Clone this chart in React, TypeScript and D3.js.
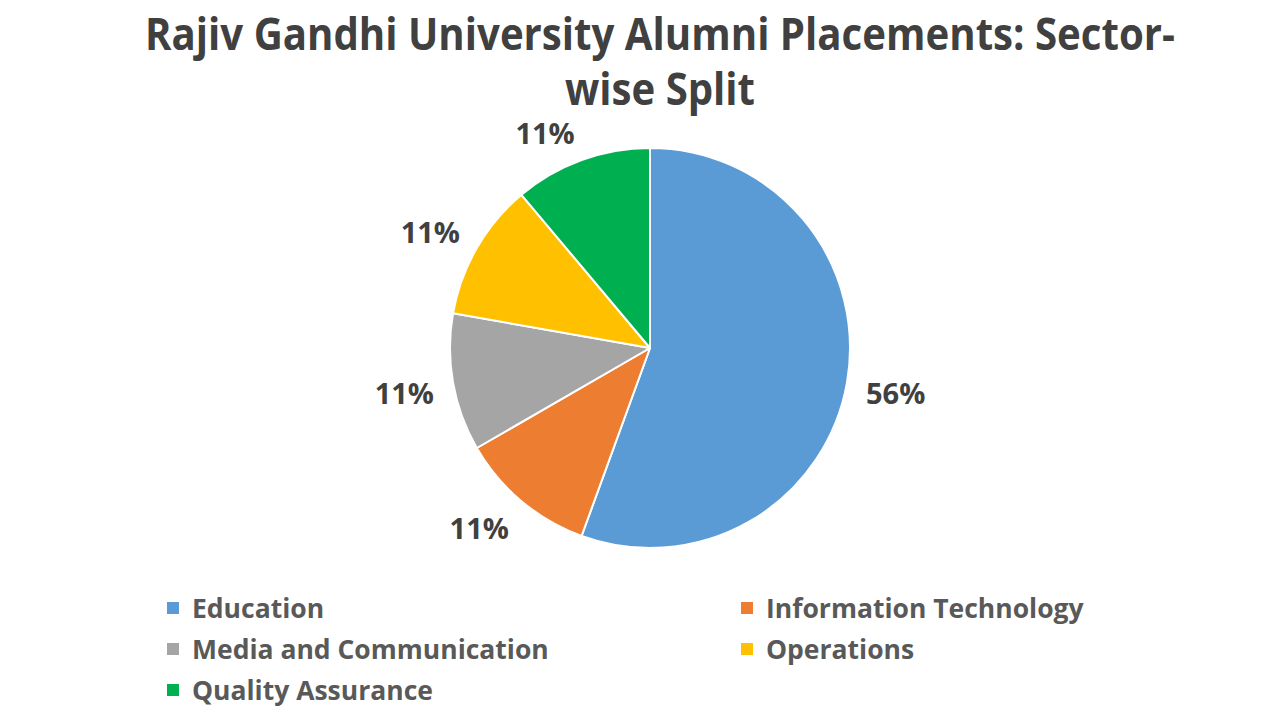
import React from "react";
import * as d3 from "d3";

const categories = ["Education", "Information Technology", "Media and Communication", "Operations", "Quality Assurance"];
const values = [5, 1, 1, 1, 1];
const colors = ["#5B9BD5", "#ED7D31", "#A5A5A5", "#FFC000", "#00B050"];
const titleLines = ["Rajiv Gandhi University Alumni Placements: Sector-", "wise Split"];

const W = 1280, H = 720;
const cx = 650, cy = 348, R = 200;

export default function App() {
  const pie = d3.pie<number>().sort(null).value((d) => d)(values);
  const arc = d3.arc<d3.PieArcDatum<number>>().innerRadius(0).outerRadius(R);
  const total = d3.sum(values);
  const fmt = d3.format(".0%");
  const legendPos = [
    { x: 167, y: 608 },
    { x: 741, y: 608 },
    { x: 167, y: 649 },
    { x: 741, y: 649 },
    { x: 167, y: 690 },
  ];
  return (
    <svg width={W} height={H} style={{ position: "absolute", left: 0, top: 0, background: "#fff" }}>
      <rect x={0} y={0} width={W} height={H} fill="#fff" />
      <g fontFamily="'Open Sans', sans-serif" fontWeight={700} fill="#404040" textAnchor="middle">
        <text x={660} y={50} fontSize={44} textLength={1030} lengthAdjust="spacingAndGlyphs">{titleLines[0]}</text>
        <text x={660} y={105} fontSize={44} textLength={190} lengthAdjust="spacingAndGlyphs">{titleLines[1]}</text>
      </g>
      <g transform={`translate(${cx},${cy})`}>
        {pie.map((p, i) => (
          <path key={i} d={arc(p) || ""} fill={colors[i]} stroke="#fff" strokeWidth={2} strokeLinejoin="round" />
        ))}
        {pie.map((p, i) => {
          const a = (p.startAngle + p.endAngle) / 2;
          const ux = Math.sin(a), uy = -Math.cos(a);
          const g = 19, hw = 30, hh = 12;
          const x = (R + g) * ux + Math.sign(ux) * hw;
          const y = (R + g) * uy + hh * Math.sign(uy) * Math.abs(uy) ** 0.5;
          return (
            <text key={i} x={x} y={y + 13} textAnchor="middle" fontFamily="'Open Sans', sans-serif" fontWeight={700} fontSize={29} fill="#404040">
              {fmt(values[i] / total)}
            </text>
          );
        })}
      </g>
      <g fontFamily="'Open Sans', sans-serif" fontWeight={700} fontSize={26.5} fill="#595959">
        {categories.map((c, i) => (
          <g key={c} transform={`translate(${legendPos[i].x},${legendPos[i].y})`}>
            <rect x={0} y={-6} width={12} height={12} fill={colors[i]} />
            <text x={25} y={10}>{c}</text>
          </g>
        ))}
      </g>
    </svg>
  );
}
